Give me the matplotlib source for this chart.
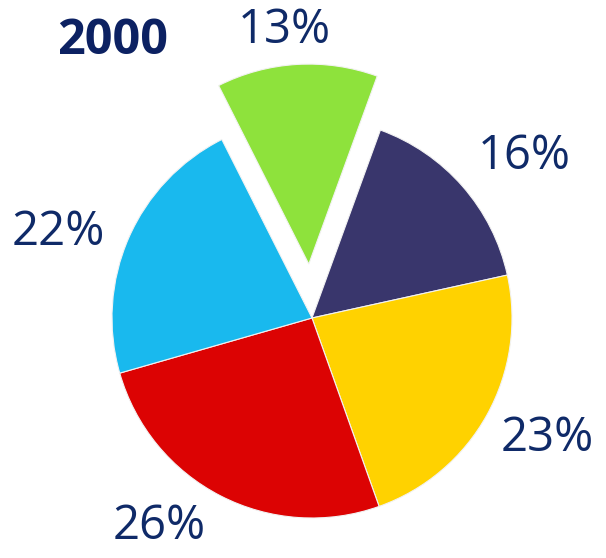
import numpy as np
import matplotlib
matplotlib.use("Agg")
import matplotlib.pyplot as plt

# Share of each category in 2000 (clockwise from the exploded slice)
shares = [13, 16, 23, 26, 22]
colors = ['#8ee23c', '#39366c', '#ffd200', '#dc0303', '#19b9ee']
explode = [0.27, 0, 0, 0, 0]
year = "2000"

# label placement tweaks (degrees off the wedge middle, radius in pie units)
label_shift = [2, -4, 2, -9, 5]
label_dist = [1.445, 1.335, 1.32, 1.29, 1.338]

text_color = '#0f2a68'
plt.rcParams['font.family'] = ['Open Sans', 'DejaVu Sans']

fig = plt.figure(figsize=(6.06, 5.58), dpi=100)
ax = fig.add_axes([0, 0, 1, 1])

wedges, _ = ax.pie(shares, colors=colors, explode=explode, startangle=116.8,
                   counterclock=False, radius=1.0,
                   wedgeprops=dict(edgecolor='#f2f2f2', linewidth=0.8))

for w, s, d, dist in zip(wedges, shares, label_shift, label_dist):
    mid = np.deg2rad((w.theta1 + w.theta2) / 2 + d)
    ax.text(dist * np.cos(mid), dist * np.sin(mid), f"{s}%",
            ha='center', va='center', fontsize=34, color=text_color)

fig.text(113 / 606, 1 - 42 / 558, year, ha='center', va='center',
         fontsize=35, fontweight='bold', color='#0c2162')

# put the pie centre where the reference has it
ax.set_xlim(-312 / 200, (606 - 312) / 200)
ax.set_ylim(-(558 - 318) / 200, 318 / 200)
ax.set_aspect('equal')
ax.axis('off')

fig.savefig("out.png", dpi=100)
